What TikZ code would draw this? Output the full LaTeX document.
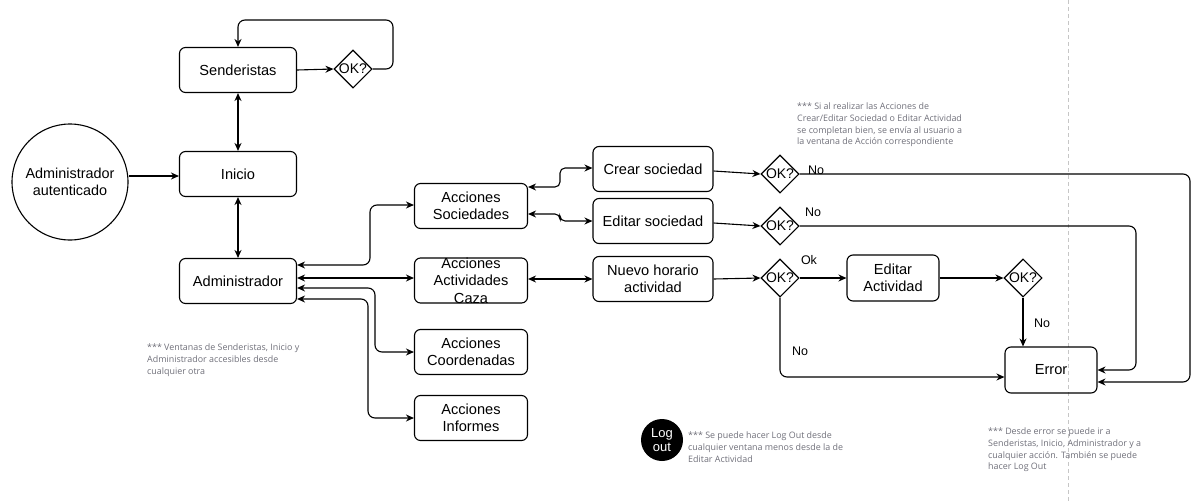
\documentclass[tikz,border=0pt]{standalone}
\usepackage{fontspec}
\setmainfont{Liberation Sans}
\newfontfamily\notefont{Open Sans}
\usetikzlibrary{shapes.geometric,arrows.meta}
\definecolor{notegray}{RGB}{112,112,122}
\begin{document}
\begin{tikzpicture}[x=1pt,y=-1pt,
  box/.style={draw, rounded corners=6pt, line width=1.1pt, minimum width=117pt,
    minimum height=45pt, align=center, inner sep=1pt,
    font=\fontsize{14.6}{16.5}\selectfont},
  sbox/.style={box, minimum width=92pt, minimum height=46pt},
  decision/.style={draw, diamond, line width=1.1pt, minimum width=38pt,
    minimum height=38pt, inner sep=0pt, aspect=1,
    label={[font=\fontsize{14}{16}\selectfont]center:OK?}},
  conn/.style={line width=1.1pt, rounded corners=7pt,
    arrows={-Stealth[length=8pt,width=7pt]}},
  both/.style={conn, arrows={Stealth[length=8pt,width=7pt]-Stealth[length=8pt,width=7pt]}},
  tag/.style={font=\fontsize{12.5}{14}\selectfont, inner sep=0pt},
  note/.style={font=\notefont\fontsize{8.9}{11.6}\selectfont, text=notegray,
    align=left, anchor=north west, inner sep=0pt}]
\useasboundingbox (0,0) rectangle (1192,501);

% separator
\draw[dashed, dash pattern=on 4pt off 3pt, gray!45, line width=0.8pt] (1068,0) -- (1068,501);

% nodes
\node[draw, circle, line width=1.1pt, minimum size=116pt, align=center,
  font=\fontsize{14.4}{17}\selectfont] (auth) at (70,182) {Administrador\\autenticado};
\node[box] (send) at (238,70) {Senderistas};
\node[decision] (ok0) at (353,69) {};
\node[box] (ini) at (238,174) {Inicio};
\node[box] (adm) at (238,281) {Administrador};

\node[box, minimum width=113pt] (soc) at (471,206) {Acciones\\Sociedades};
\node[box, minimum width=113pt, font=\fontsize{14.6}{17.5}\selectfont, inner sep=0pt,
  minimum height=45pt, text height=8pt] (act) at (471,280.5) {};
\node[font=\fontsize{14.6}{17.5}\selectfont, align=center, inner sep=0pt] (actlbl) at (act) {Acciones\\Actividades\\Caza};
\node[box, minimum width=113pt] (coo) at (471,352) {Acciones\\Coordenadas};
\node[box, minimum width=113pt] (inf) at (471,418) {Acciones\\Informes};

\node[box, minimum width=120pt] (crear) at (653,169) {Crear sociedad};
\node[box, minimum width=120pt] (edsoc) at (653,221) {Editar sociedad};
\node[box, minimum width=120pt] (nuevo) at (653,279) {Nuevo horario\\actividad};

\node[decision] (d1) at (780,174) {};
\node[decision] (d2) at (780,226) {};
\node[decision] (d3) at (780,278) {};
\node[sbox] (edact) at (893,278) {Editar\\Actividad};
\node[decision] (d4) at (1023,278) {};
\node[sbox] (err) at (1051,370) {Error};

\node[circle, fill=black, minimum size=42pt, inner sep=0pt, text=white, align=center,
  font=\fontsize{13}{14}\selectfont] (logout) at (662,440) {Log\\out};

% connectors: left column
\draw[conn] (auth.east |- 0,176) -- (ini.west |- 0,176);
\draw[conn] (send.east) -- (ok0.west);
\draw[conn] (ok0.east) -- (393,69) -- (393,20) -- (238,20) -- (send.north);
\draw[both] (send.south) -- (ini.north);
\draw[both] (ini.south) -- (adm.north);

% Administrador to the action windows
\draw[both] (adm.east |- 0,265) -- (370,265) -- (370,205) -- (soc.west |- 0,205);
\draw[both] (adm.east |- 0,278) -- (act.west |- 0,278);
\draw[both] (adm.east |- 0,288) -- (375,288) -- (375,352) -- (coo.west |- 0,352);
\draw[both] (adm.east |- 0,299) -- (368,299) -- (368,418) -- (inf.west |- 0,418);

% action windows to their forms
\draw[both, rounded corners=5pt] (soc.east |- 0,187) -- (560,187) -- (560,168) -- (crear.west |- 0,168);
\draw[both, rounded corners=5pt] (soc.east |- 0,214) -- (560,214) -- (560,221) -- (edsoc.west |- 0,221);
\draw[both] (act.east |- 0,279) -- (nuevo.west |- 0,279);

% forms to checks
\draw[conn] (crear.east |- 0,171) -- (d1.west);
\draw[conn] (edsoc.east |- 0,223) -- (d2.west);
\draw[conn] (nuevo.east |- 0,279) -- (d3.west);
\draw[conn] (d3.east) -- (edact.west);
\draw[conn] (edact.east) -- (d4.west);
\draw[conn] (d4.south) -- (err.north -| d4.south);

% failure paths to Error
\draw[conn] (d1.east) -- (1190,174) -- (1190,382) -- (err.east |- 0,382);
\draw[conn] (d2.east) -- (1136,226) -- (1136,370) -- (err.east);
\draw[conn] (d3.south) -- (780,377) -- (err.west |- 0,377);

% branch labels
\node[tag] (n1) at (816,170) {No};
\node[tag] (n2) at (813,212) {No};
\node[tag] (k3) at (809,260) {Ok};
\node[tag] (n3) at (800,351) {No};
\node[tag] (n4) at (1042,323) {No};

% notes
\node[note] (t1) at (797,103) {*** Si al realizar las Acciones de\\Crear/Editar Sociedad o Editar Actividad\\se completan bien, se envía al usuario a\\la ventana de Acción correspondiente};
\node[note] (t2) at (147,344) {*** Ventanas de Senderistas, Inicio y\\Administrador accesibles desde\\cualquier otra};
\node[note] (t3) at (688,432) {*** Se puede hacer Log Out desde\\cualquier ventana menos desde la de\\Editar Actividad};
\node[note] (t4) at (988,428) {*** Desde error se puede ir a\\Senderistas, Inicio, Administrador y a\\cualquier acción. También se puede\\hacer Log Out};
\end{tikzpicture}
\end{document}
